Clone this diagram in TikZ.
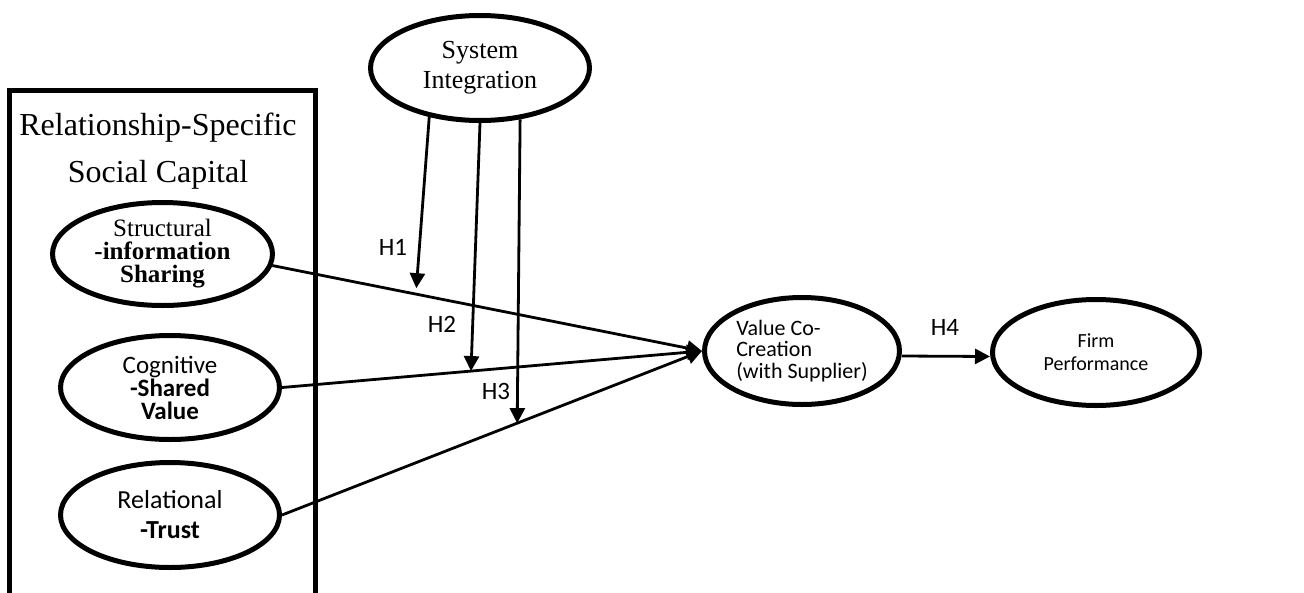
\documentclass[tikz,border=0pt]{standalone}
\usepackage{fontspec}
\setmainfont{Liberation Serif}
\newfontfamily\calfont{Carlito}
\usetikzlibrary{shapes.geometric,arrows.meta}
\begin{document}
\begin{tikzpicture}[x=1pt,y=-1pt,
  oval/.style={ellipse,draw,line width=5pt,inner sep=0pt,align=center},
  conn/.style={line width=2.8pt,-{Triangle[length=15pt,width=15pt]}},
  hlab/.style={font=\calfont\fontsize{25}{25}\selectfont,inner sep=0pt},
  serifttl/.style={font=\fontsize{32}{32}\selectfont,inner sep=0pt,anchor=base}]
\useasboundingbox (0,0) rectangle (1304,592);
\clip (0,0) rectangle (1304,592);
% box
\draw[line width=5pt] (9.5,610) -- (9.5,90.5) -- (315.5,90.5) -- (315.5,610);
\node[serifttl] (t1) at (158,135) {Relationship-Specific};
\node[serifttl] (t2) at (158,182) {Social Capital};
% ellipses
\node[oval,minimum width=220pt,minimum height=103pt,font=\fontsize{25}{23}\selectfont] (s) at (162.5,254)
  {Structural\\\textbf{-information}\\\textbf{Sharing}};
\node[oval,minimum width=219pt,minimum height=104pt,font=\calfont\fontsize{25}{23}\selectfont] (c) at (170,387.5)
  {Cognitive\\\textbf{-Shared}\\\textbf{Value}};
\node[oval,minimum width=219pt,minimum height=105pt,font=\calfont\fontsize{26}{30}\selectfont] (r) at (170,515)
  {Relational\\\textbf{-Trust}};
\node[oval,minimum width=219pt,minimum height=105pt,font=\fontsize{26}{30}\selectfont] (si) at (480,68)
  {System\\Integration};
\node[oval,minimum width=195pt,minimum height=107pt,align=left,font=\calfont\fontsize{22}{21.5}\selectfont] (v) at (802,351)
  {Value Co-\\Creation\\(with Supplier)};
\node[oval,minimum width=207pt,minimum height=106pt,font=\calfont\fontsize{20}{23}\selectfont] (f) at (1096,352.5)
  {Firm\\Performance};
% connectors to value co-creation
\draw[conn] (s.354) -- (v.west) coordinate[pos=0.335] (p1);
\draw[conn] (c.east) -- (v.west) coordinate[pos=0.45] (p2);
\draw[conn] (r.east) -- (v.west) coordinate[pos=0.56] (p3);
% moderation arrows
\draw[conn] (si.224) -- ([yshift=6pt]p1);
\draw[conn] (si.270) -- (p2);
\draw[conn] (si.308) -- (p3);
% H4
\draw[conn] ([yshift=-5pt]v.east) -- ([yshift=-4pt]f.west);
% labels
\node[hlab] (h1) at (393,247) {H1};
\node[hlab] (h2) at (442,324) {H2};
\node[hlab] (h3) at (496,391) {H3};
\node[hlab] (h4) at (945,327) {H4};
\end{tikzpicture}
\end{document}
